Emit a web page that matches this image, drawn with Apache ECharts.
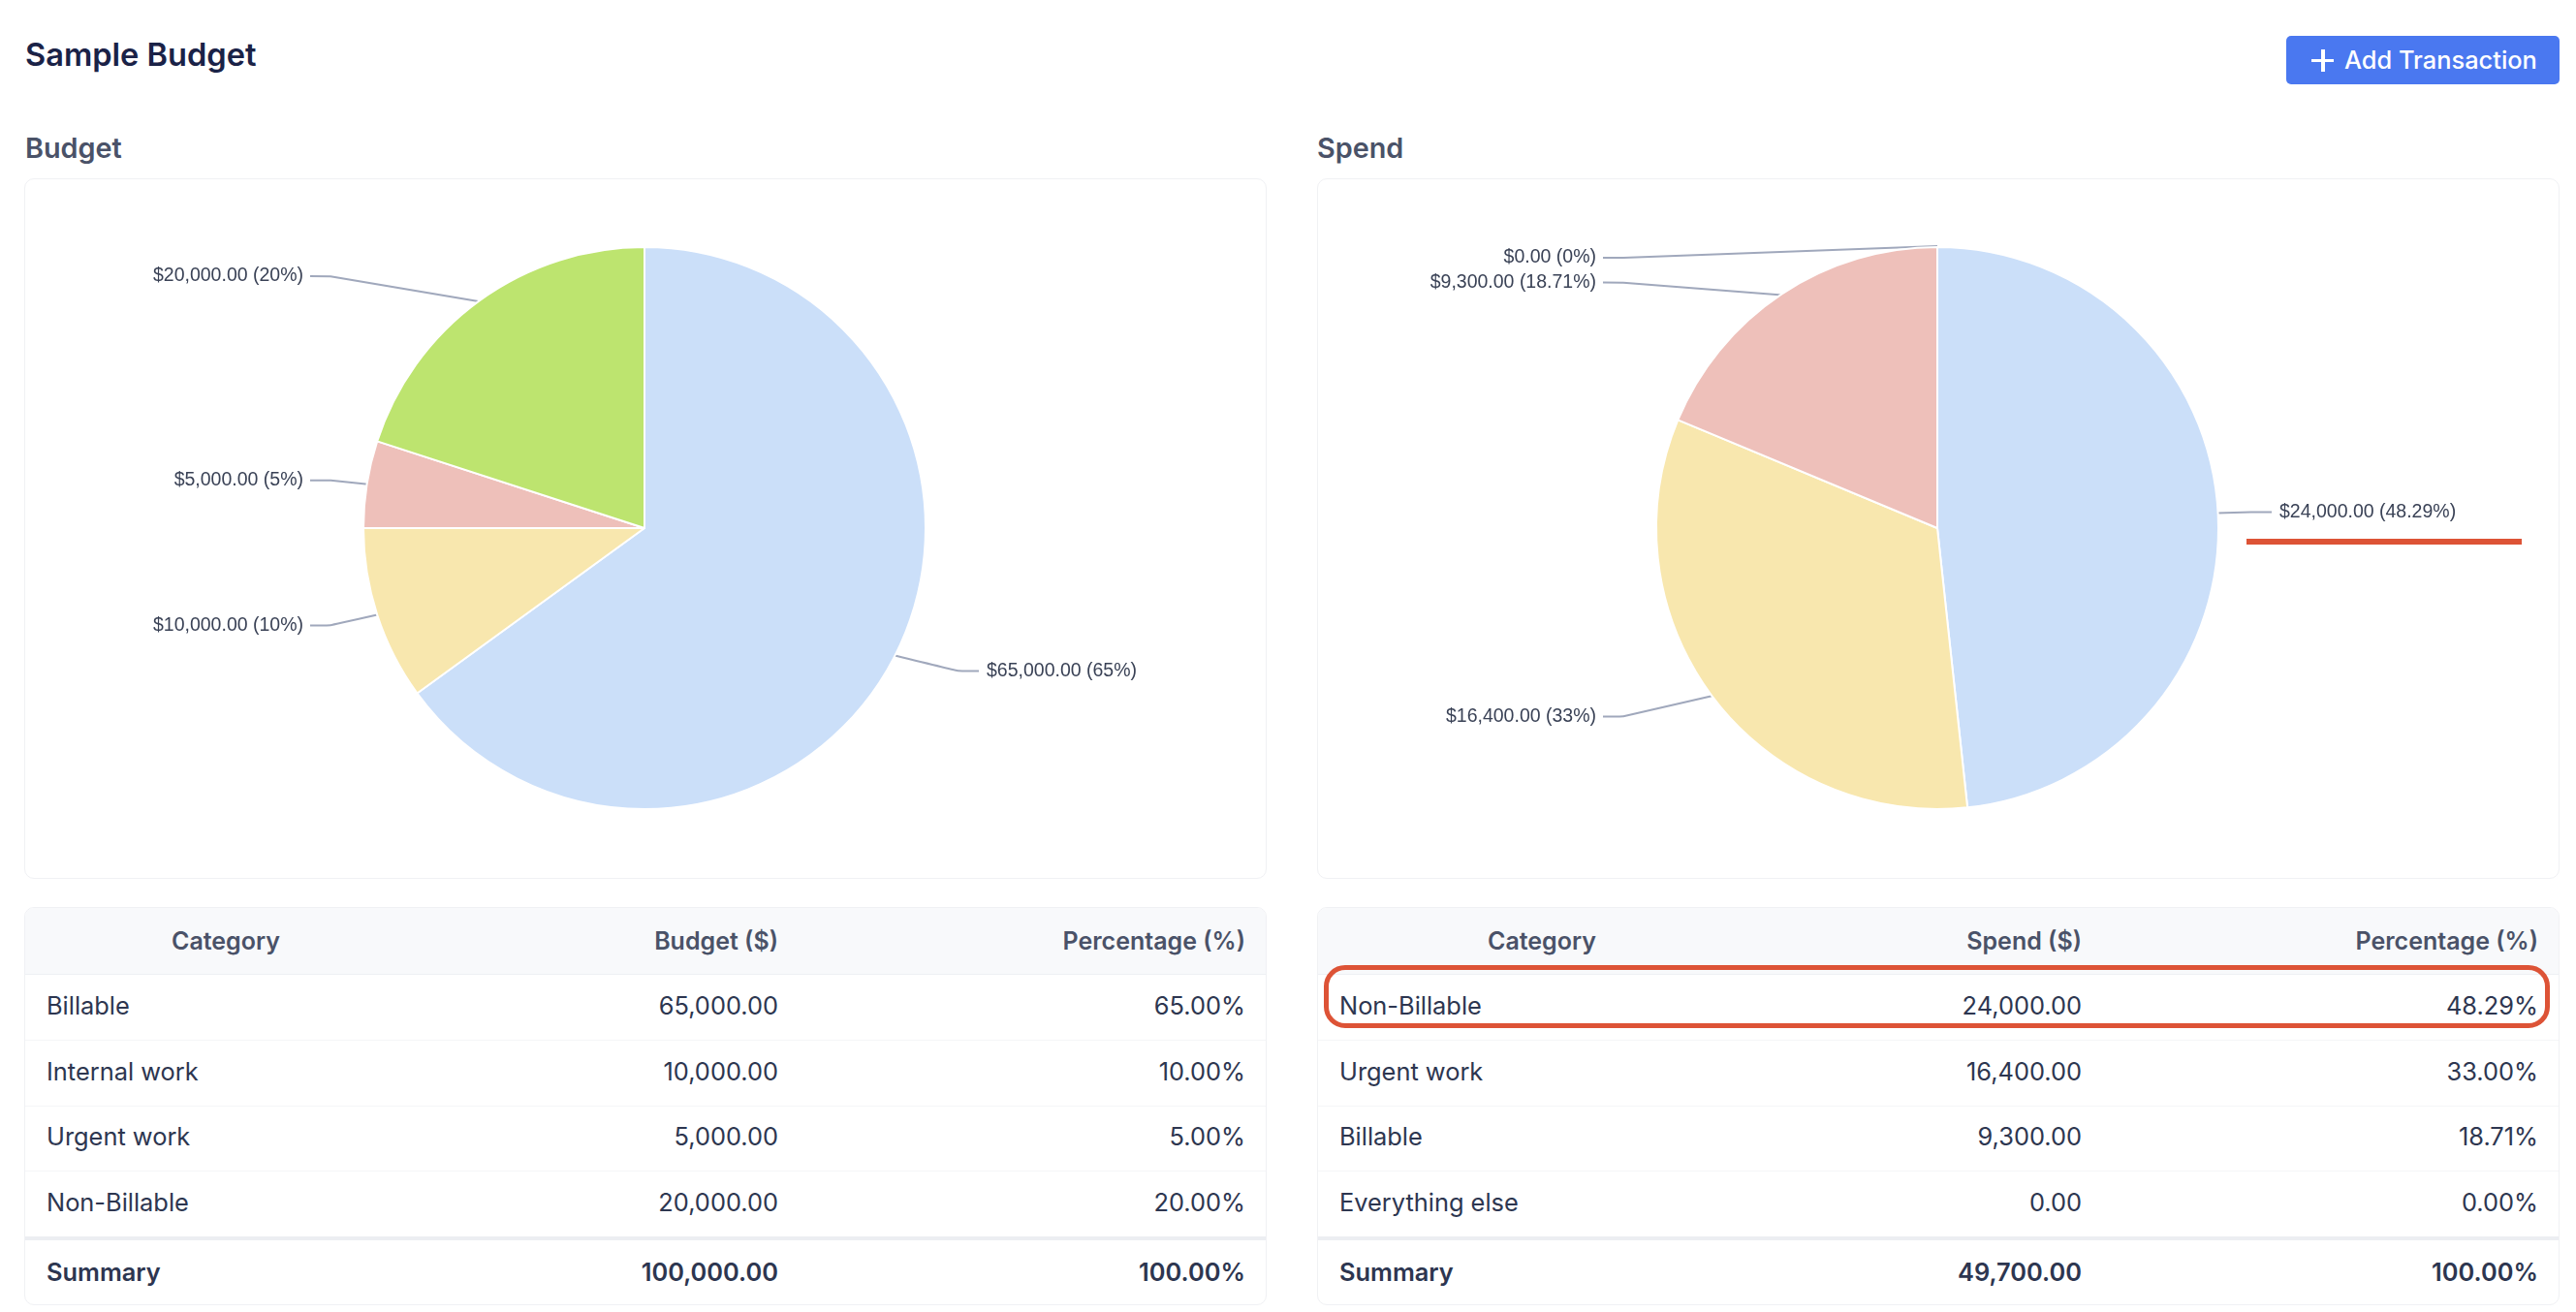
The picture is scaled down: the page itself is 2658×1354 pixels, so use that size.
<!DOCTYPE html>
<html lang="en">
<head>
<meta charset="UTF-8">
<style>
    html, body { margin: 0; height: 100%; background: #fff; font-family: Inter, sans-serif; color: #2d3650; overflow: hidden; }
    .abs { position: absolute; white-space: nowrap; }
    #title { left: 26px; top: 36px; font-size: 32.6px; line-height: 40px; font-weight: 600; color: #1a2247; }
    .sub { top: 135px; font-size: 28.8px; line-height: 36px; font-weight: 600; color: #4a5268; }
    #btn { left: 2359px; top: 37px; width: 282px; height: 50px; background: #4a78f0; border-radius: 5px; color: #fff; font-size: 25.4px; font-weight: 500; line-height: 50px; }
    #btn span { position: absolute; left: 60px; }
    #btn i { position: absolute; background: #fff; }
    .card { position: absolute; top: 184px; width: 1280px; height: 721px; border: 1.5px solid #f0f1f4; border-radius: 10px; box-sizing: content-box; }
    .chart { width: 100%; height: 100%; }
    .tbl { position: absolute; top: 936px; width: 1280px; height: 409px; border: 1.5px solid #f0f1f4; border-radius: 10px; overflow: hidden; font-size: 25.4px; }
    .row { position: absolute; left: 0; right: 0; line-height: 68px; height: 68px; }
    .row span { position: absolute; white-space: nowrap; }
    .head { background: #f8f9fb; font-weight: 600; font-size: 25px; color: #4a5268; border-bottom: 1.5px solid #eef0f4; }
    .line { border-bottom: 1.5px solid #f5f6f8; line-height: 66px; }
    .sum { font-weight: 600; border-top: 4px solid #eceef2; line-height: 66px; }
    .mark { position: absolute; background: #dd5336; }
    #ring { position: absolute; left: 1366px; top: 996px; width: 1265px; height: 65px; box-sizing: border-box; border: 5.5px solid #dd5336; border-radius: 22px; }
</style>
</head>
<body>
<div id="title" class="abs">Sample Budget</div>
<div id="btn" class="abs"><i style="left:26px;top:23.5px;width:23px;height:3.5px"></i><i style="left:36px;top:14px;width:3.5px;height:23px"></i><span>Add Transaction</span></div>
<div class="abs sub" style="left:26px">Budget</div>
<div class="abs sub" style="left:1359px">Spend</div>
<div class="card" style="left:25px"><div id="budgetChart" class="chart"></div></div>
<div class="card" style="left:1359px"><div id="spendChart" class="chart"></div></div>
<div id="budgetTable" class="tbl" style="left:25px"></div>
<div id="spendTable" class="tbl" style="left:1359px"></div>
<div class="mark" style="left:2318px;top:556px;width:284px;height:6px"></div>
<div id="ring"></div>
<script src="https://cdn.jsdelivr.net/npm/echarts@6/dist/echarts.min.js"></script>
<script>
    var budgetCategories = ['Billable', 'Internal work', 'Urgent work', 'Non-Billable'];
    var budgetValues = [65000, 10000, 5000, 20000];
    var budgetPercents = [65, 10, 5, 20];
    var budgetLabelPct = ['65%', '10%', '5%', '20%'];
    var budgetColors = ['#cbdff9', '#f8e7ae', '#eec0ba', '#bde46f'];

    var spendCategories = ['Non-Billable', 'Urgent work', 'Billable', 'Everything else'];
    var spendValues = [24000, 16400, 9300, 0];
    var spendPercents = [48.29, 33, 18.71, 0];
    var spendLabelPct = ['48.29%', '33%', '18.71%', '0%'];
    var spendColors = ['#cbdff9', '#f8e7ae', '#eec0ba', '#bde46f'];

    var PIE_R = 290;

    var money = function (v) {
        return v.toLocaleString('en-US', { minimumFractionDigits: 2, maximumFractionDigits: 2 });
    };

    function drawPie(id, names, values, pcts, colors, labelNudge) {
        var chart = echarts.init(document.getElementById(id));
        var total = values.reduce(function (a, b) { return a + b; }, 0);
        var cx = chart.getWidth() / 2 - 1, cy = chart.getHeight() / 2 - 0.5;

        // all labels hang off the same x, left or right of the pie, only y follows the slice
        function layoutLabel(p) {
            var before = 0;
            for (var i = 0; i < p.dataIndex; i++) before += values[i];
            var a = (before + values[p.dataIndex] / 2) / total * 2 * Math.PI;
            var sx = Math.sin(a), cs = Math.cos(a);
            var empty = values[p.dataIndex] == 0;
            var side = (sx < 0 || empty) ? -1 : 1;
            var elbowY = cy - 325 * cs + (labelNudge[p.dataIndex] || 0);
            return {
                x: cx + side * (side < 0 ? 352 : 353),
                y: elbowY,
                align: side < 0 ? 'right' : 'left',
                verticalAlign: 'middle',
                labelLinePoints: [
                    [cx + (PIE_R - 1) * sx, cy - (PIE_R - 1) * cs - (empty ? 2 : 0)],
                    [cx + side * 324, elbowY],
                    [cx + side * 345, elbowY]
                ]
            };
        }

        chart.setOption({
            animation: false,
            series: [{
                type: 'pie',
                center: [cx, cy],
                radius: PIE_R,
                startAngle: 90,
                minShowLabelAngle: 0,
                stillShowZeroSum: true,
                avoidLabelOverlap: false,
                data: names.map(function (n, i) {
                    return { name: n, value: values[i], itemStyle: { color: colors[i] } };
                }),
                itemStyle: { borderColor: '#fff', borderWidth: 2 },
                label: {
                    fontFamily: 'Liberation Sans',
                    fontSize: 19.5,
                    color: '#3a4256',
                    formatter: function (p) {
                        return '$' + money(p.value) + ' (' + pcts[p.dataIndex] + ')';
                    }
                },
                labelLine: {
                    length: 35,
                    length2: 21,
                    smooth: 0.1,
                    lineStyle: { color: '#a0a8bc', width: 2 }
                },
                labelLayout: layoutLabel,
                z: 2
            }]
        });
    }

    function buildTable(id, heads, names, values, pcts, total, catCenter, valRight) {
        var el = document.getElementById(id);
        var html = '<div class="row head" style="top:0">' +
            '<span style="left:' + catCenter + 'px;transform:translateX(-50%)">Category</span>' +
            '<span style="right:' + valRight + 'px">' + heads + '</span>' +
            '<span style="right:21px">Percentage (%)</span></div>';
        names.forEach(function (n, i) {
            html += '<div class="row line" style="top:' + (68 + i * 67.6) + 'px">' +
                '<span style="left:22px">' + n + '</span>' +
                '<span style="right:' + valRight + 'px">' + money(values[i]) + '</span>' +
                '<span style="right:21px">' + pcts[i].toFixed(2) + '%</span></div>';
        });
        html += '<div class="row sum" style="top:339px">' +
            '<span style="left:22px">Summary</span>' +
            '<span style="right:' + valRight + 'px">' + money(total) + '</span>' +
            '<span style="right:21px">100.00%</span></div>';
        el.innerHTML = html;
    }

    drawPie('budgetChart', budgetCategories, budgetValues, budgetLabelPct, budgetColors, [0, 0, 1.5, 3]);
    drawPie('spendChart', spendCategories, spendValues, spendLabelPct, spendColors, [1, 0, 17, 46]);
    buildTable('budgetTable', 'Budget ($)', budgetCategories, budgetValues, budgetPercents, 100000, 207, 503);
    buildTable('spendTable', 'Spend ($)', spendCategories, spendValues, spendPercents, 49700, 231, 492);
</script>
</body>
</html>
